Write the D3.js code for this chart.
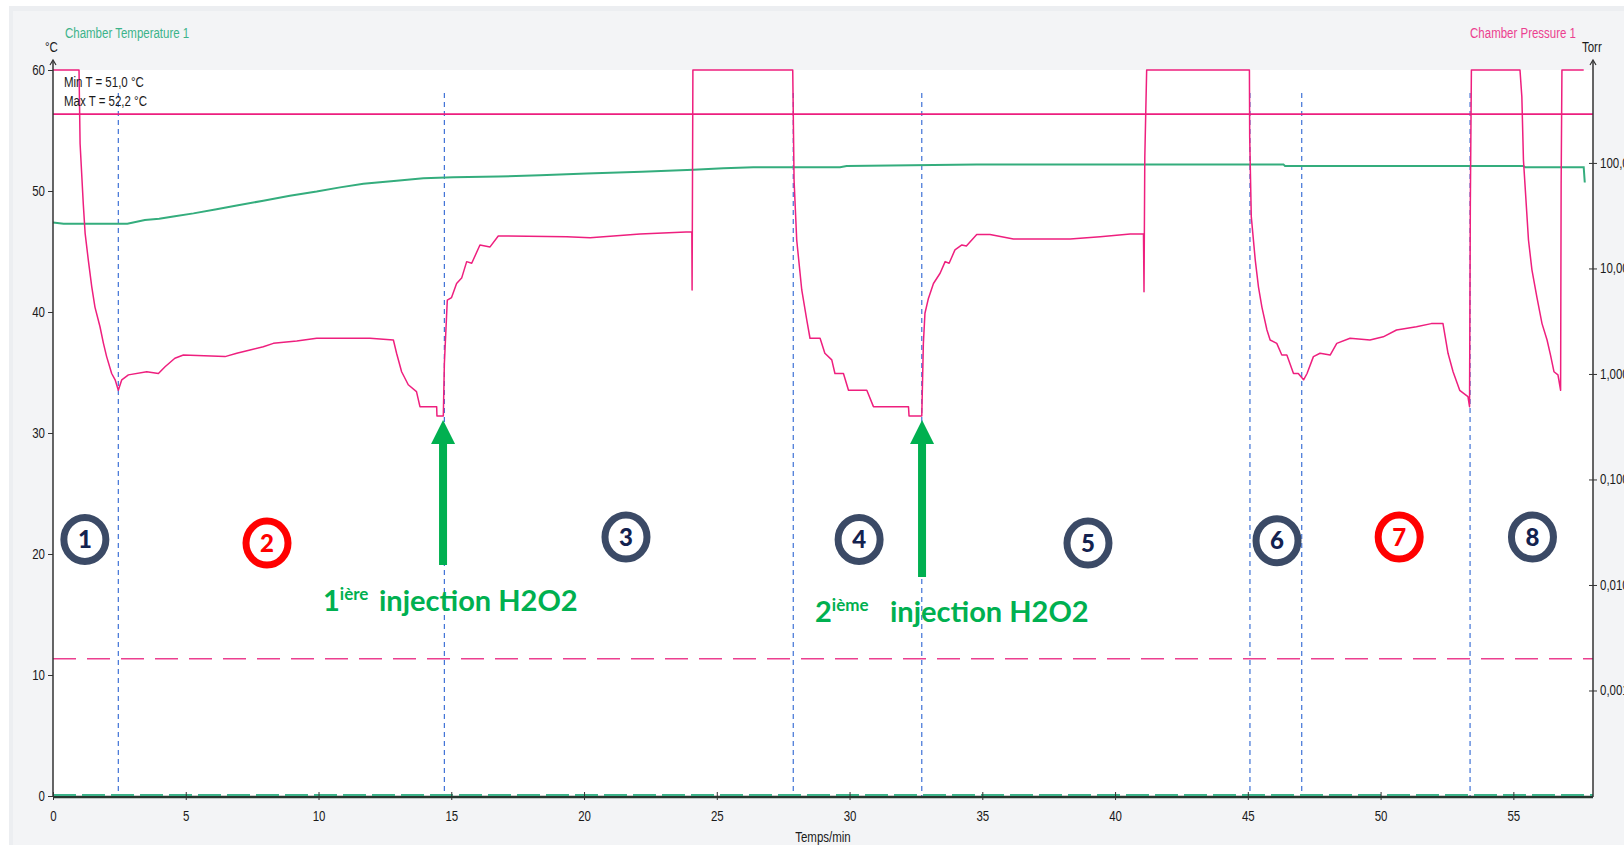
<!DOCTYPE html>
<html>
<head>
<meta charset="utf-8">
<script src="https://cdn.jsdelivr.net/npm/d3@7"></script>
<style>
body { margin: 0; background: #fff; overflow: hidden; }
text { font-family: "Liberation Sans Narrow", "Liberation Sans", Arial, sans-serif; }
</style>
</head>
<body>
<svg id="chart" width="1624" height="845"></svg>
<script>
// ---- data ----
const timeTicks = [0, 5, 10, 15, 20, 25, 30, 35, 40, 45, 50, 55]
const tempTicks = [0, 10, 20, 30, 40, 50, 60]
const pressTicks = [0.001, 0.01, 0.1, 1, 10, 100]

// chamber temperature, [min, °C]
const temperature = [[0, 47.4], [0.4, 47.3], [2.8, 47.3], [3.46, 47.6], [4.0, 47.7], [4.53, 47.9], [5.29, 48.15],
  [6.16, 48.5], [6.92, 48.8], [7.92, 49.2], [8.92, 49.6], [9.93, 49.95], [10.81, 50.3], [11.69, 50.6],
  [12.94, 50.85], [13.95, 51.05], [15.08, 51.13], [16.77, 51.2], [18.34, 51.3], [20.1, 51.45], [22.17, 51.6],
  [24.12, 51.75], [25.25, 51.88], [26.38, 51.96], [29.64, 51.96], [29.89, 52.07], [34.79, 52.2], [46.34, 52.2],
  [46.4, 52.07], [55.38, 52.07], [55.45, 51.96], [57.65, 51.96], [57.69, 50.7]]

// chamber pressure, [min, Torr]
const pressure = [[0, 760], [0.98, 760], [1.02, 153], [1.14, 41], [1.21, 21.5], [1.33, 12], [1.46, 6.7], [1.58, 4.3],
  [1.77, 2.8], [1.9, 1.95], [2.02, 1.46], [2.21, 1.01], [2.34, 0.88], [2.46, 0.7], [2.59, 0.88], [2.84, 0.98],
  [3.53, 1.05], [3.97, 1.01], [4.22, 1.17], [4.59, 1.41], [4.91, 1.51], [6.48, 1.46], [6.92, 1.57], [7.42, 1.69],
  [7.92, 1.81], [8.3, 1.95], [9.18, 2.05], [9.93, 2.18], [11.94, 2.18], [12.82, 2.1], [12.94, 1.57], [13.13, 1.05],
  [13.38, 0.79], [13.69, 0.68], [13.82, 0.49], [14.45, 0.49], [14.46, 0.4], [14.7, 0.4], [14.74, 1.26], [14.85, 5.0],
  [15.01, 5.3], [15.2, 7.2], [15.39, 8.1], [15.58, 11.6], [15.77, 11.2], [16.08, 16.7], [16.46, 16.0], [16.77, 20.3],
  [19.35, 20.0], [20.23, 19.5], [22.11, 21.2], [24.06, 22.3], [24.07, 6.25], [24.1, 760], [27.86, 760], [27.91, 69],
  [28.01, 18.6], [28.2, 6.25], [28.39, 3.24], [28.51, 2.18], [28.89, 2.18], [29.07, 1.57], [29.33, 1.36], [29.45, 1.01],
  [29.77, 1.01], [29.96, 0.7], [30.65, 0.7], [30.9, 0.49], [32.22, 0.49], [32.24, 0.4], [32.72, 0.4], [32.78, 1.95],
  [32.84, 3.76], [32.97, 5.2], [33.16, 7.2], [33.41, 9.0], [33.6, 11.6], [33.75, 11.2], [33.97, 15.0], [34.23, 16.7],
  [34.4, 16.3], [34.79, 21.0], [35.29, 21.0], [36.17, 19.0], [38.31, 19.0], [39.44, 20.0], [40.57, 21.2], [41.07, 21.2],
  [41.09, 6.0], [41.12, 114], [41.19, 760], [45.06, 760], [45.07, 177], [45.13, 31], [45.28, 12], [45.4, 6.7],
  [45.53, 4.3], [45.72, 2.61], [45.84, 2.1], [46.09, 1.95], [46.28, 1.51], [46.47, 1.51], [46.72, 1.01], [46.9, 1.01],
  [47.1, 0.88], [47.23, 1.01], [47.47, 1.46], [47.72, 1.57], [48.1, 1.51], [48.35, 1.95], [48.85, 2.18], [49.6, 2.1],
  [50.1, 2.25], [50.6, 2.61], [51.35, 2.8], [51.91, 3.0], [52.35, 3.0], [52.54, 1.57], [52.73, 1.05], [52.98, 0.7],
  [53.29, 0.61], [53.35, 0.49], [53.38, 41], [53.42, 760], [55.25, 760], [55.32, 425], [55.38, 107], [55.57, 18.6],
  [55.7, 9.7], [55.89, 5.3], [56.08, 3.0], [56.27, 2.1], [56.4, 1.51], [56.53, 1.05], [56.68, 0.98], [56.78, 0.7],
  [56.8, 64], [56.83, 760], [57.65, 760]]

const pressLimitHigh = 290     // Torr, solid pink
const pressLimitLow = 0.002    // Torr, dashed pink
const tempLimitLow = 0         // °C, green dashed at the bottom

const phaseTimes = [2.46, 14.74, 27.88, 32.72, 45.08, 47.03, 53.37]
const phaseNames = ['1', '2', '3', '4', '5', '6', '7', '8']
const phaseLabelTimes = [1.2, 8.06, 21.58, 30.36, 38.98, 46.1, 50.7, 55.72]
const phaseLabelTemps = [21.2, 20.9, 21.4, 21.2, 20.9, 21.1, 21.4, 21.4]
const phaseRed = [false, true, false, false, false, false, true, false]

const injectionTimes = [14.69, 32.73]
const injectionNum = ['1', '2']
const injectionSup = ['ière', 'ième']

// ---- layout ----
const W = 1624, H = 845
const mLeft = 53, mRight = 1593, mTop = 70, mBottom = 796

const svg = d3.select('#chart')

// squeeze a text to look like a narrow face
const narrow = sel => sel.each(function () {
    let w = this.getComputedTextLength()
    d3.select(this).attr('textLength', w * 0.82).attr('lengthAdjust', 'spacingAndGlyphs')
})

svg.append('rect').attr('x', 9).attr('y', 6).attr('width', W).attr('height', H).attr('fill', '#eceef1')
svg.append('rect').attr('x', 13).attr('y', 11).attr('width', W).attr('height', H).attr('fill', '#f3f4f6')
svg.append('rect').attr('x', mLeft).attr('y', mTop).attr('width', mRight - mLeft).attr('height', mBottom - mTop).attr('fill', '#fff')

const x = d3.scaleLinear().domain([0, 58]).range([mLeft, mRight])
const yT = d3.scaleLinear().domain([0, 60]).range([mBottom, mTop])
const yP = d3.scaleLog().domain([1e-4, 760]).range([mBottom, mTop])

// phase separators
svg.append('g').selectAll('line')
    .data(phaseTimes)
    .enter()
    .append('line')
    .attr('x1', d => x(d)).attr('x2', d => x(d))
    .attr('y1', 93).attr('y2', mBottom)
    .attr('stroke', '#3f72d6')
    .attr('stroke-width', 1.2)
    .attr('stroke-dasharray', '5,4')

// limits
svg.append('line')
    .attr('x1', mLeft).attr('x2', mRight)
    .attr('y1', yP(pressLimitHigh)).attr('y2', yP(pressLimitHigh))
    .attr('stroke', '#ec1f7f').attr('stroke-width', 1.6)
svg.append('line')
    .attr('x1', mLeft).attr('x2', mRight)
    .attr('y1', yP(pressLimitLow)).attr('y2', yP(pressLimitLow))
    .attr('stroke', '#ec3f8f').attr('stroke-width', 1.4)
    .attr('stroke-dasharray', '23,11')

// temperature
const lineT = d3.line().x(d => x(d[0])).y(d => yT(d[1]))
svg.append('path')
    .datum(temperature)
    .attr('d', lineT)
    .attr('fill', 'none')
    .attr('stroke', '#34ad7d')
    .attr('stroke-width', 2)

// pressure
const lineP = d3.line().x(d => x(d[0])).y(d => yP(d[1]))
svg.append('path')
    .datum(pressure)
    .attr('d', lineP)
    .attr('fill', 'none')
    .attr('stroke', '#ee1f7e')
    .attr('stroke-width', 1.5)
    .attr('stroke-linejoin', 'round')

// bottom lines at 0 °C
svg.append('line')
    .attr('x1', mLeft).attr('x2', mRight)
    .attr('y1', yT(tempLimitLow) + 1).attr('y2', yT(tempLimitLow) + 1)
    .attr('stroke', '#1d3b2c').attr('stroke-width', 2.5)
svg.append('line')
    .attr('x1', mLeft).attr('x2', mRight)
    .attr('y1', yT(tempLimitLow) - 1).attr('y2', yT(tempLimitLow) - 1)
    .attr('stroke', '#3cb38a').attr('stroke-width', 2)
    .attr('stroke-dasharray', '23,6')

// axes
const axisColor = '#333'
const styleAxis = g => {
    g.select('.domain').remove()
    g.selectAll('line').attr('stroke', axisColor)
    g.selectAll('text').attr('fill', '#1a1a1a').style('font-size', '14px')
        .style('font-family', '"Liberation Sans Narrow", "Liberation Sans", Arial, sans-serif')
        .call(narrow)
}

let gL = svg.append('g').attr('transform', 'translate(' + mLeft + ',0)')
    .call(d3.axisLeft(yT).tickValues(tempTicks).tickSize(5).tickPadding(3))
styleAxis(gL)

let gR = svg.append('g').attr('transform', 'translate(' + mRight + ',0)')
    .call(d3.axisRight(yP).tickValues(pressTicks).tickSize(4).tickPadding(3)
        .tickFormat(d => d3.format('.3f')(d).replace('.', ',')))
styleAxis(gR)
gR.selectAll('.tick line').attr('x1', -4).attr('x2', 4)

let gB = svg.append('g').attr('transform', 'translate(0,' + mBottom + ')')
    .call(d3.axisBottom(x).tickValues(timeTicks).tickSize(4).tickPadding(11))
styleAxis(gB)
gB.selectAll('.tick line').attr('y1', -4).attr('y2', 4)

// axis lines with small arrows
;[mLeft, mRight].forEach(ax => {
    svg.append('line').attr('x1', ax).attr('x2', ax).attr('y1', mBottom + 1).attr('y2', 61)
        .attr('stroke', axisColor).attr('stroke-width', 1.5)
    svg.append('path').attr('d', `M${ax - 3},${65} L${ax},${60} L${ax + 3},${65}`)
        .attr('fill', 'none').attr('stroke', axisColor).attr('stroke-width', 1.2)
})
svg.append('line').attr('x1', mLeft).attr('x2', mRight).attr('y1', mBottom + 1).attr('y2', mBottom + 1)
    .attr('stroke', axisColor).attr('stroke-width', 1)

// titles
const label = (tx, ty, s, col, anchor) => svg.append('text')
    .attr('x', tx).attr('y', ty).attr('fill', col)
    .attr('text-anchor', anchor || 'start')
    .style('font-size', '14px').text(s)
    .call(narrow)

label(65, 38, 'Chamber Temperature 1', '#3cb38a')
label(1576, 38, 'Chamber Pressure 1', '#ec3f8f', 'end')
label(45, 52, '°C', '#1a1a1a')
label(1582, 52, 'Torr', '#1a1a1a')
label(823, 842, 'Temps/min', '#1a1a1a', 'middle')
label(64, 87, 'Min T = 51,0 °C', '#1a1a1a')
label(64, 106, 'Max T = 52,2 °C', '#1a1a1a')

// phase markers
let marks = svg.append('g').selectAll('g')
    .data(phaseNames)
    .enter()
    .append('g')
    .attr('transform', (d, i) => 'translate(' + x(phaseLabelTimes[i]) + ',' + yT(phaseLabelTemps[i]) + ')')

marks.append('ellipse')
    .attr('rx', 21).attr('ry', 22)
    .attr('fill', '#fff')
    .attr('stroke', (d, i) => phaseRed[i] ? '#ff0000' : '#3b4a66')
    .attr('stroke-width', 7)

marks.append('text')
    .attr('text-anchor', 'middle')
    .attr('dy', '0.36em')
    .attr('fill', (d, i) => phaseRed[i] ? '#ff0000' : '#13224f')
    .style('font-family', 'Lato, "Open Sans", sans-serif')
    .style('font-weight', 900)
    .style('font-size', '24px')
    .text(d => d)

// injection arrows
const arrowGreen = '#00b050'
const arrowBottoms = [565, 577]
injectionTimes.forEach((t, i) => {
    let ax = x(t)
    svg.append('rect').attr('x', ax - 4).attr('y', 440).attr('width', 8).attr('height', arrowBottoms[i] - 440)
        .attr('fill', arrowGreen)
    svg.append('path').attr('d', `M${ax - 12},${444} L${ax},${420} L${ax + 12},${444} Z`).attr('fill', arrowGreen)
})

// injection captions
const captions = [{ x: 323, xi: 379, y: 611 }, { x: 815, xi: 890, y: 622 }]
captions.forEach((c, i) => {
    let t = svg.append('text').attr('x', c.x).attr('y', c.y).attr('fill', arrowGreen)
        .style('font-family', 'Lato, "Open Sans", sans-serif')
        .style('font-weight', 700)
        .style('font-size', '29px')
    t.append('tspan').text(injectionNum[i])
    t.append('tspan').attr('dy', -11).style('font-size', '17px').text(injectionSup[i])
    t.append('tspan').attr('x', c.xi).attr('dy', 11).text('injection H2O2')
})
</script>
</body>
</html>
